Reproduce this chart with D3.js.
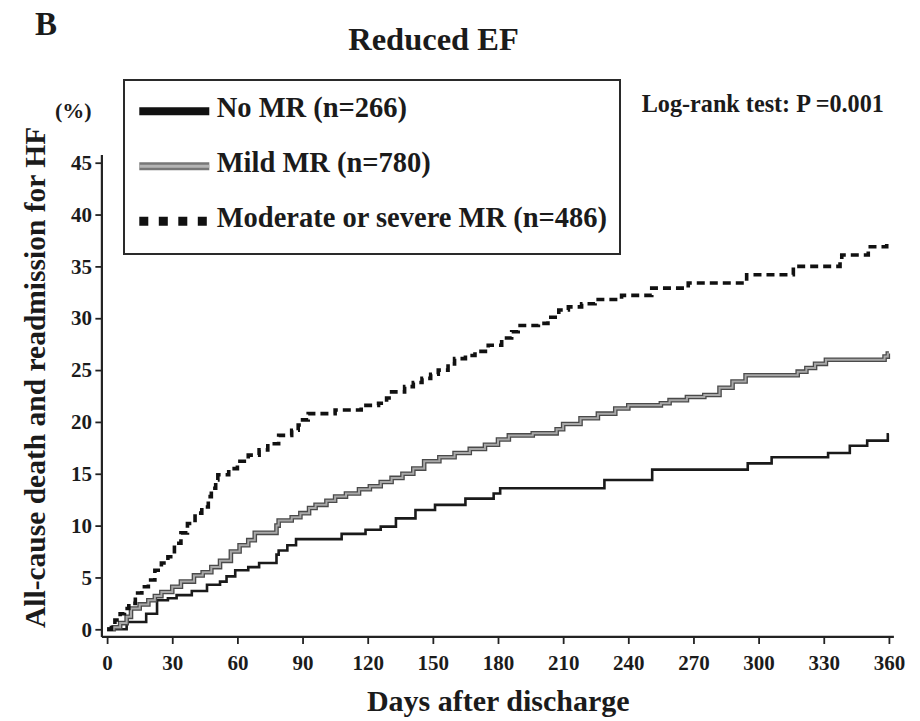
<!DOCTYPE html>
<html>
<head>
<meta charset="utf-8">
<script src="https://cdn.jsdelivr.net/npm/d3@7"></script>
<style>
  html, body { margin: 0; padding: 0; background: #fff; }
  svg { display: block; }
  text { font-family: "Liberation Serif", "Times New Roman", serif; font-weight: bold; fill: #1b1b1b; }
</style>
</head>
<body>
<svg id="chart" width="920" height="721"></svg>
<script>
// Cumulative incidence (%) of all-cause death or HF readmission, [day, percent] at each step
const noMR = [
  [0,0],[9,0.7],[18,1.5],[23,2.8],[28,3.0],[32,3.3],[39,3.7],[46,4.3],[52,4.6],[55,5.1],
  [59,5.7],[65,6.0],[70,6.4],[78,7.2],[79,7.6],[83,8.1],[87,8.7],[108,9.2],[119,9.6],[126,9.9],
  [133,10.7],[142,11.5],[151,12.0],[165,12.6],[178,13.1],[181,13.6],[229,14.4],[251,15.4],
  [295,16.0],[306,16.6],[332,17.0],[342,17.7],[350,18.2],[359.5,18.8],[360,18.8]
];
const mildMR = [
  [0,0],[3,0.2],[6,0.6],[9,1.2],[11,2.0],[15,2.4],[19,2.8],[22,3.2],[25,3.6],[30,4.1],
  [34,4.6],[40,5.2],[44,5.5],[48,6.0],[52,6.6],[57,7.5],[61,8.1],[65,8.6],[68,9.3],[78,10.0],
  [79,10.5],[85,10.8],[89,11.2],[93,11.7],[96,12.0],[101,12.4],[105,12.8],[110,13.1],[116,13.5],
  [121,13.8],[126,14.2],[131,14.6],[136,15.0],[141,15.5],[146,16.2],[153,16.6],[160,17.0],
  [167,17.4],[174,17.8],[180,18.3],[185,18.7],[196,18.9],[207,19.3],[210,19.8],[218,20.35],
  [226,20.8],[234,21.3],[240,21.6],[255,21.8],[259,22.1],[267,22.4],[275,22.6],[282,23.3],
  [288,23.9],[294,24.5],[318,24.85],[322,25.2],[326,25.6],[331,26.0],[358,26.3],[359.5,26.6],[360,26.6]
];
const modSevMR = [
  [0,0],[2,0.4],[3.6,0.9],[6,1.5],[8,2.0],[10,2.5],[13,3.5],[16,4.1],[19,4.75],[22,5.7],
  [25,6.4],[28,7.0],[31,8.3],[34,9.3],[37,10.2],[40.5,11.2],[43.6,11.8],[46.6,12.8],[48,13.6],
  [50,14.4],[51,14.9],[56,15.5],[60,16.2],[65,16.8],[70,17.3],[74,17.9],[79,18.7],[85,19.2],
  [88,19.7],[90,20.2],[92.6,20.8],[105,21.15],[117,21.6],[125,21.8],[128.7,22.3],[131,22.9],
  [137,23.4],[141,23.8],[145,24.2],[149,24.6],[152.5,25.0],[157,25.6],[160,26.1],[165,26.4],
  [169.4,26.8],[175.5,27.4],[181.7,28.1],[186.3,28.7],[189.3,29.3],[198.6,29.5],[203,30.1],
  [208,30.8],[212.4,31.1],[218.5,31.4],[224.7,31.8],[236.9,32.2],[250.8,32.9],[267.6,33.4],
  [294.5,34.2],[316,35.0],[337.5,35.45],[338.3,36.1],[350.5,36.9],[359,37.4],[360,37.4]
];

const legendLabels = ["No MR (n=266)", "Mild MR (n=780)", "Moderate or severe MR (n=486)"];
const xTicks = [0,30,60,90,120,150,180,210,240,270,300,330,360];
const yTicks = [0,5,10,15,20,25,30,35,40,45];

const svg = d3.select("#chart");

const x = d3.scaleLinear().domain([0, 360]).range([107.1, 888.9]);
const y = d3.scaleLinear().domain([0, 45]).range([629.3, 162.7]);

// Panel letter and title
svg.append("text").attr("x", 35).attr("y", 35).style("font-size", "33px").text("B");
svg.append("text").attr("x", 433.5).attr("y", 50).attr("text-anchor", "middle")
  .style("font-size", "32.5px").text("Reduced EF");

// Axes
const axisColor = "#222";
const xAxis = d3.axisBottom(x).tickValues(xTicks).tickSize(7).tickPadding(11).tickFormat(d3.format("d"));
const yAxis = d3.axisLeft(y).tickValues(yTicks).tickSize(6.5).tickPadding(3.5).tickFormat(d3.format("d"));

const gx = svg.append("g").attr("transform", `translate(0,${y(-0.74)})`).call(xAxis);
gx.select(".domain").remove();
gx.selectAll(".tick line").attr("stroke", axisColor).attr("stroke-width", 1.8);
gx.selectAll(".tick text").style("font-size", "21px").attr("fill", "#1b1b1b")
  .style("font-family", '"Liberation Serif", serif').style("font-weight", "bold");

const gy = svg.append("g").attr("transform", `translate(${x(-2.4)},0)`).call(yAxis);
gy.select(".domain").remove();
gy.selectAll(".tick line").attr("stroke", axisColor).attr("stroke-width", 1.8);
gy.selectAll(".tick text").style("font-size", "21px").attr("fill", "#1b1b1b")
  .style("font-family", '"Liberation Serif", serif').style("font-weight", "bold");

// Axis lines extend slightly beyond the first and last ticks
svg.append("line").attr("x1", x(-2.4)).attr("x2", x(362.3))
  .attr("y1", y(-0.74)).attr("y2", y(-0.74)).attr("stroke", axisColor).attr("stroke-width", 2.2);
svg.append("line").attr("x1", x(-2.4)).attr("x2", x(-2.4))
  .attr("y1", y(-0.74)).attr("y2", y(45.75)).attr("stroke", axisColor).attr("stroke-width", 2.2);

// Axis titles
svg.append("text").attr("x", 498.3).attr("y", 711).attr("text-anchor", "middle")
  .style("font-size", "30px").text("Days after discharge");
svg.append("text").attr("transform", "translate(44.5,377.4) rotate(-90)")
  .attr("text-anchor", "middle").style("font-size", "29.5px")
  .text("All-cause death and readmission for HF");
svg.append("text").attr("x", 55).attr("y", 118).style("font-size", "22px").text("(%)");

// Kaplan-Meier style step curves
const step = d3.line().x(d => x(d[0])).y(d => y(d[1])).curve(d3.curveStepAfter);

svg.append("path").datum(noMR).attr("d", step)
  .attr("fill", "none").attr("stroke", "#1a1a1a").attr("stroke-width", 2.6);

svg.append("path").datum(mildMR).attr("d", step)
  .attr("fill", "none").attr("stroke", "#4a4a4a").attr("stroke-width", 4.6);
svg.append("path").datum(mildMR).attr("d", step)
  .attr("fill", "none").attr("stroke", "#a8a8a8").attr("stroke-width", 2);

svg.append("path").datum(modSevMR).attr("d", step)
  .attr("fill", "none").attr("stroke", "#111").attr("stroke-width", 3.6)
  .attr("stroke-dasharray", "8,5");

// Log-rank annotation
svg.append("text").attr("x", 641.7).attr("y", 111.7).style("font-size", "24.2px")
  .text("Log-rank test: P =0.001");

// Legend
const lg = svg.append("g");
lg.append("rect").attr("x", 124).attr("y", 80).attr("width", 496).attr("height", 174)
  .attr("fill", "#fff").attr("stroke", "#2a2a2a").attr("stroke-width", 2);

const rowY = [111.3, 166.3, 221.3];
const sx1 = 139.3, sx2 = 209.3;
lg.append("line").attr("x1", sx1).attr("x2", sx2).attr("y1", rowY[0]).attr("y2", rowY[0])
  .attr("stroke", "#111").attr("stroke-width", 8);
lg.append("line").attr("x1", sx1).attr("x2", sx2).attr("y1", rowY[1]).attr("y2", rowY[1])
  .attr("stroke", "#777").attr("stroke-width", 8);
lg.append("line").attr("x1", sx1).attr("x2", sx2).attr("y1", rowY[1]).attr("y2", rowY[1])
  .attr("stroke", "#b4b4b4").attr("stroke-width", 3);
lg.append("line").attr("x1", sx1).attr("x2", sx2).attr("y1", rowY[2]).attr("y2", rowY[2])
  .attr("stroke", "#111").attr("stroke-width", 9).attr("stroke-dasharray", "9,10.5");

lg.selectAll("text.lab").data(legendLabels).join("text").attr("class", "lab")
  .attr("x", 216.7).attr("y", (d, i) => rowY[i] + 5.6)
  .style("font-size", "28.5px").text(d => d);
</script>
</body>
</html>
